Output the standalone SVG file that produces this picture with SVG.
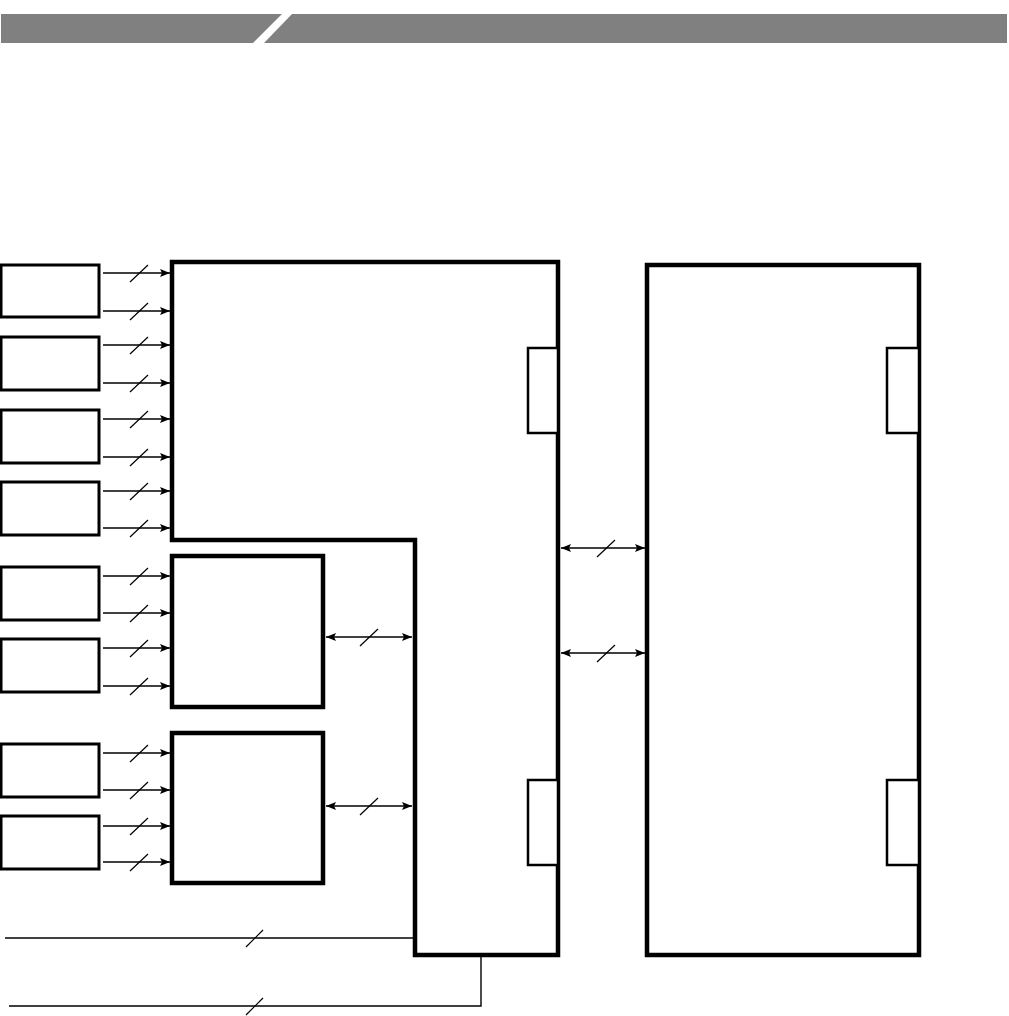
<svg xmlns="http://www.w3.org/2000/svg" width="1009" height="1016" viewBox="0 0 1009 1016">
<style>
.bar{fill:#808080}
.src{fill:#fff;stroke:#000;stroke-width:3}
.blk{fill:#fff;stroke:#000;stroke-width:4.5}
.port{fill:#fff;stroke:#000;stroke-width:2.5}
.ln{fill:none;stroke:#000;stroke-width:1.4}
.sl{fill:none;stroke:#000;stroke-width:1.2}
</style>
<defs>
<marker id="ah" viewBox="0 0 10 8" refX="10" refY="4" markerWidth="10" markerHeight="8" markerUnits="userSpaceOnUse" orient="auto-start-reverse">
<path d="M0,0 L10,4 L0,8 L2,4 Z" fill="#000"/>
</marker>
</defs>
<rect width="1009" height="1016" fill="#fff"/>
<g id="header">
<polygon class="bar" points="1,14 282,14 253,43 1,43"/>
<polygon class="bar" points="292,14 1007,14 1007,43 264,43"/>
</g>
<g id="src1"><rect class="src" x="1" y="265" width="98" height="52"/></g>
<g id="src2"><rect class="src" x="1" y="337" width="98" height="53"/></g>
<g id="src3"><rect class="src" x="1" y="410" width="98" height="53"/></g>
<g id="src4"><rect class="src" x="1" y="482" width="98" height="53"/></g>
<g id="src5"><rect class="src" x="1" y="567" width="98" height="53"/></g>
<g id="src6"><rect class="src" x="1" y="639" width="98" height="53"/></g>
<g id="src7"><rect class="src" x="1" y="744" width="98" height="53"/></g>
<g id="src8"><rect class="src" x="1" y="816" width="98" height="53"/></g>
<g id="lblock">
<path class="blk" d="M172,262 L558,262 L558,955 L415,955 L415,540 L172,540 Z"/>
<rect class="port" x="528" y="348" width="30" height="85"/>
<rect class="port" x="528" y="780" width="30" height="85"/>
</g>
<g id="rblock">
<rect class="blk" x="647" y="265" width="272" height="690"/>
<rect class="port" x="887" y="348" width="32" height="85"/>
<rect class="port" x="887" y="780" width="32" height="85"/>
</g>
<g id="mid1"><rect class="blk" x="172" y="556" width="151" height="151"/></g>
<g id="mid2"><rect class="blk" x="172" y="733" width="151" height="150"/></g>
<g id="connectors">
<g class="ln" marker-end="url(#ah)">
<line x1="103" y1="273" x2="170" y2="273"/>
<line x1="103" y1="311" x2="170" y2="311"/>
<line x1="103" y1="345" x2="170" y2="345"/>
<line x1="103" y1="383" x2="170" y2="383"/>
<line x1="103" y1="419" x2="170" y2="419"/>
<line x1="103" y1="457" x2="170" y2="457"/>
<line x1="103" y1="491" x2="170" y2="491"/>
<line x1="103" y1="528" x2="170" y2="528"/>
<line x1="103" y1="576" x2="170" y2="576"/>
<line x1="103" y1="613" x2="170" y2="613"/>
<line x1="103" y1="648" x2="170" y2="648"/>
<line x1="103" y1="686" x2="170" y2="686"/>
<line x1="103" y1="753" x2="170" y2="753"/>
<line x1="103" y1="790" x2="170" y2="790"/>
<line x1="103" y1="826" x2="170" y2="826"/>
<line x1="103" y1="862" x2="170" y2="862"/>
</g>
<g class="ln" marker-start="url(#ah)" marker-end="url(#ah)">
<line x1="326" y1="637" x2="412" y2="637"/>
<line x1="326" y1="806" x2="412" y2="806"/>
<line x1="561" y1="548" x2="645" y2="548"/>
<line x1="561" y1="653" x2="645" y2="653"/>
</g>
<polyline class="ln" points="5,938 413,938"/>
<polyline class="ln" points="9,1006 481,1006 481,957"/>
<g class="sl">
<line x1="130" y1="282" x2="148" y2="265"/>
<line x1="130" y1="320" x2="148" y2="303"/>
<line x1="130" y1="354" x2="148" y2="337"/>
<line x1="130" y1="392" x2="148" y2="375"/>
<line x1="130" y1="428" x2="148" y2="411"/>
<line x1="130" y1="466" x2="148" y2="449"/>
<line x1="130" y1="500" x2="148" y2="483"/>
<line x1="130" y1="537" x2="148" y2="520"/>
<line x1="130" y1="585" x2="148" y2="568"/>
<line x1="130" y1="622" x2="148" y2="605"/>
<line x1="130" y1="657" x2="148" y2="640"/>
<line x1="130" y1="695" x2="148" y2="678"/>
<line x1="130" y1="762" x2="148" y2="745"/>
<line x1="130" y1="799" x2="148" y2="782"/>
<line x1="130" y1="835" x2="148" y2="818"/>
<line x1="130" y1="871" x2="148" y2="854"/>
<line x1="360" y1="646" x2="378" y2="629"/>
<line x1="360" y1="815" x2="378" y2="798"/>
<line x1="597" y1="557" x2="615" y2="540"/>
<line x1="597" y1="662" x2="615" y2="645"/>
<line x1="246" y1="947" x2="263" y2="930"/>
<line x1="246" y1="1015" x2="263" y2="998"/>
</g>
</g>
</svg>
